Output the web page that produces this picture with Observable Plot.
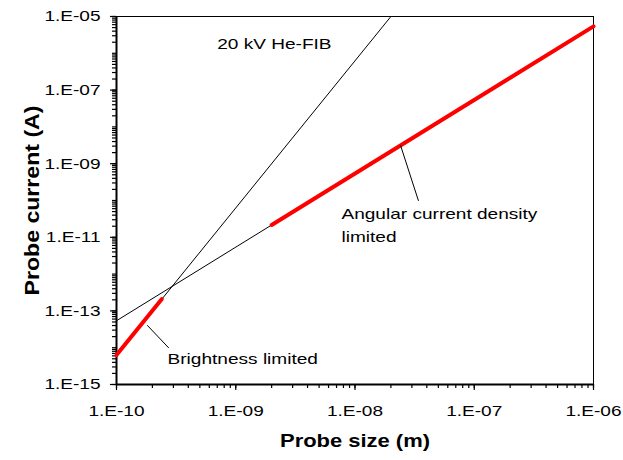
<!DOCTYPE html>
<html><head><meta charset="utf-8">
<script src="https://cdn.jsdelivr.net/npm/d3@7"></script>
<script src="https://cdn.jsdelivr.net/npm/@observablehq/plot@0.6"></script>
<style>body{margin:0;background:#fff}</style>
</head><body><div id="chart"></div>
<script>
// tick values and labels
const xTicks = [1e-10, 1e-9, 1e-8, 1e-7, 1e-6];
const xTickLabels = ["1.E-10", "1.E-09", "1.E-08", "1.E-07", "1.E-06"];
const yTicks = [1e-15, 1e-13, 1e-11, 1e-9, 1e-7, 1e-5];
const yTickLabels = ["1.E-15", "1.E-13", "1.E-11", "1.E-09", "1.E-07", "1.E-05"];

// series: endpoints of straight lines on the log-log plot
const steepSize = [1e-10, 2e-8];
const steepCurrent = [6.3e-15, 1e-5];
const shallowSize = [1e-10, 1e-6];
const shallowCurrent = [5.4e-14, 5.4e-6];
const brightSize = [1e-10, 2.4e-10];
const brightCurrent = [6.3e-15, 2.1e-13];
const angularSize = [2e-9, 1e-6];
const angularCurrent = [2.16e-11, 5.4e-6];

// annotations
const noteText = ["20 kV He-FIB", "Brightness limited", "Angular current density", "limited"];
const noteX = [7.0e-10, 2.68e-10, 7.7e-9, 7.7e-9];
const noteY = [1.81e-6, 4.78e-15, 4.3e-11, 1.0e-11];
const leaderBrightX = [1.82e-10, 2.73e-10];
const leaderBrightY = [4.0e-14, 1.0e-14];
const leaderAngX = [2.41e-8, 3.4e-8];
const leaderAngY = [3.14e-9, 1.0e-10];

// minor log ticks
const decadeMinor = (lo, hi) => {
  const out = [];
  for (let e = lo; e < hi; e++) for (let k = 1; k <= 9; k++) out.push(+(k + "e" + e));
  out.push(+("1e" + hi));
  return out;
};
const xMinor = decadeMinor(-10, -6);
const yMinor = decadeMinor(-15, -5);

const font = "'Liberation Sans', Arial, sans-serif";

const chart = Plot.plot({
  width: 623,
  height: 460,
  marginLeft: 116,
  marginRight: 30,
  marginTop: 16,
  marginBottom: 76,
  style: {fontFamily: font, fontSize: "15px", background: "white", color: "black"},
  x: {type: "log", domain: [1e-10, 1e-6]},
  y: {type: "log", domain: [1e-15, 1e-5]},
  marks: [
    Plot.frame({stroke: "black", strokeWidth: 1}),
    Plot.axisX({ticks: xMinor, tickSize: 4, tickFormat: () => "", label: null, strokeWidth: 1.2}),
    Plot.axisX({ticks: xTicks, tickSize: 6, tickPadding: 15, fontSize: 15, label: null, strokeWidth: 1.2,
      tickFormat: d => xTickLabels[xTicks.indexOf(d)]}),
    Plot.axisY({ticks: yMinor, tickSize: 4, tickFormat: () => "", label: null, strokeWidth: 1.2}),
    Plot.axisY({ticks: yTicks, tickSize: 6, tickPadding: 10, fontSize: 15, label: null, strokeWidth: 1.2,
      tickFormat: d => yTickLabels[yTicks.indexOf(d)]}),
    Plot.ruleX([1e-10], {stroke: "black", strokeWidth: 2}),
    Plot.ruleY([1e-15], {stroke: "black", strokeWidth: 2}),
    Plot.line(steepSize, {x: steepSize, y: steepCurrent, stroke: "black", strokeWidth: 1}),
    Plot.line(shallowSize, {x: shallowSize, y: shallowCurrent, stroke: "black", strokeWidth: 1}),
    Plot.line(brightSize, {x: brightSize, y: brightCurrent, stroke: "#ff0000", strokeWidth: 4, strokeLinecap: "round"}),
    Plot.line(angularSize, {x: angularSize, y: angularCurrent, stroke: "#ff0000", strokeWidth: 4, strokeLinecap: "round"}),
    Plot.line(leaderBrightX, {x: leaderBrightX, y: leaderBrightY, stroke: "black", strokeWidth: 1}),
    Plot.line(leaderAngX, {x: leaderAngX, y: leaderAngY, stroke: "black", strokeWidth: 1}),
    Plot.text(noteText, {x: noteX, y: noteY, text: noteText, textAnchor: "start", fontSize: 15, fill: "black"}),
    Plot.text(["Probe size (m)"], {text: d => d, frameAnchor: "bottom", dy: 62, fontWeight: "bold", fontSize: 19, fill: "black"}),
    Plot.text(["Probe current (A)"], {text: d => d, frameAnchor: "left", textAnchor: "middle", dx: -84, rotate: -90, fontWeight: "bold", fontSize: 21, fill: "black"})
  ]
});

document.getElementById("chart").appendChild(chart);

// widen glyphs horizontally to match the reference's proportions (horizontal texts only)
chart.querySelectorAll("text").forEach(t => {
  const s = t.textContent;
  if (!s) return;
  const len = t.getComputedTextLength();
  let target = len * 1.27;
  if (s === "Probe size (m)") target = 150;
  if (s === "Probe current (A)") target = 190;
  t.setAttribute("textLength", target.toFixed(1));
  t.setAttribute("lengthAdjust", "spacingAndGlyphs");
});
</script>
</body></html>
